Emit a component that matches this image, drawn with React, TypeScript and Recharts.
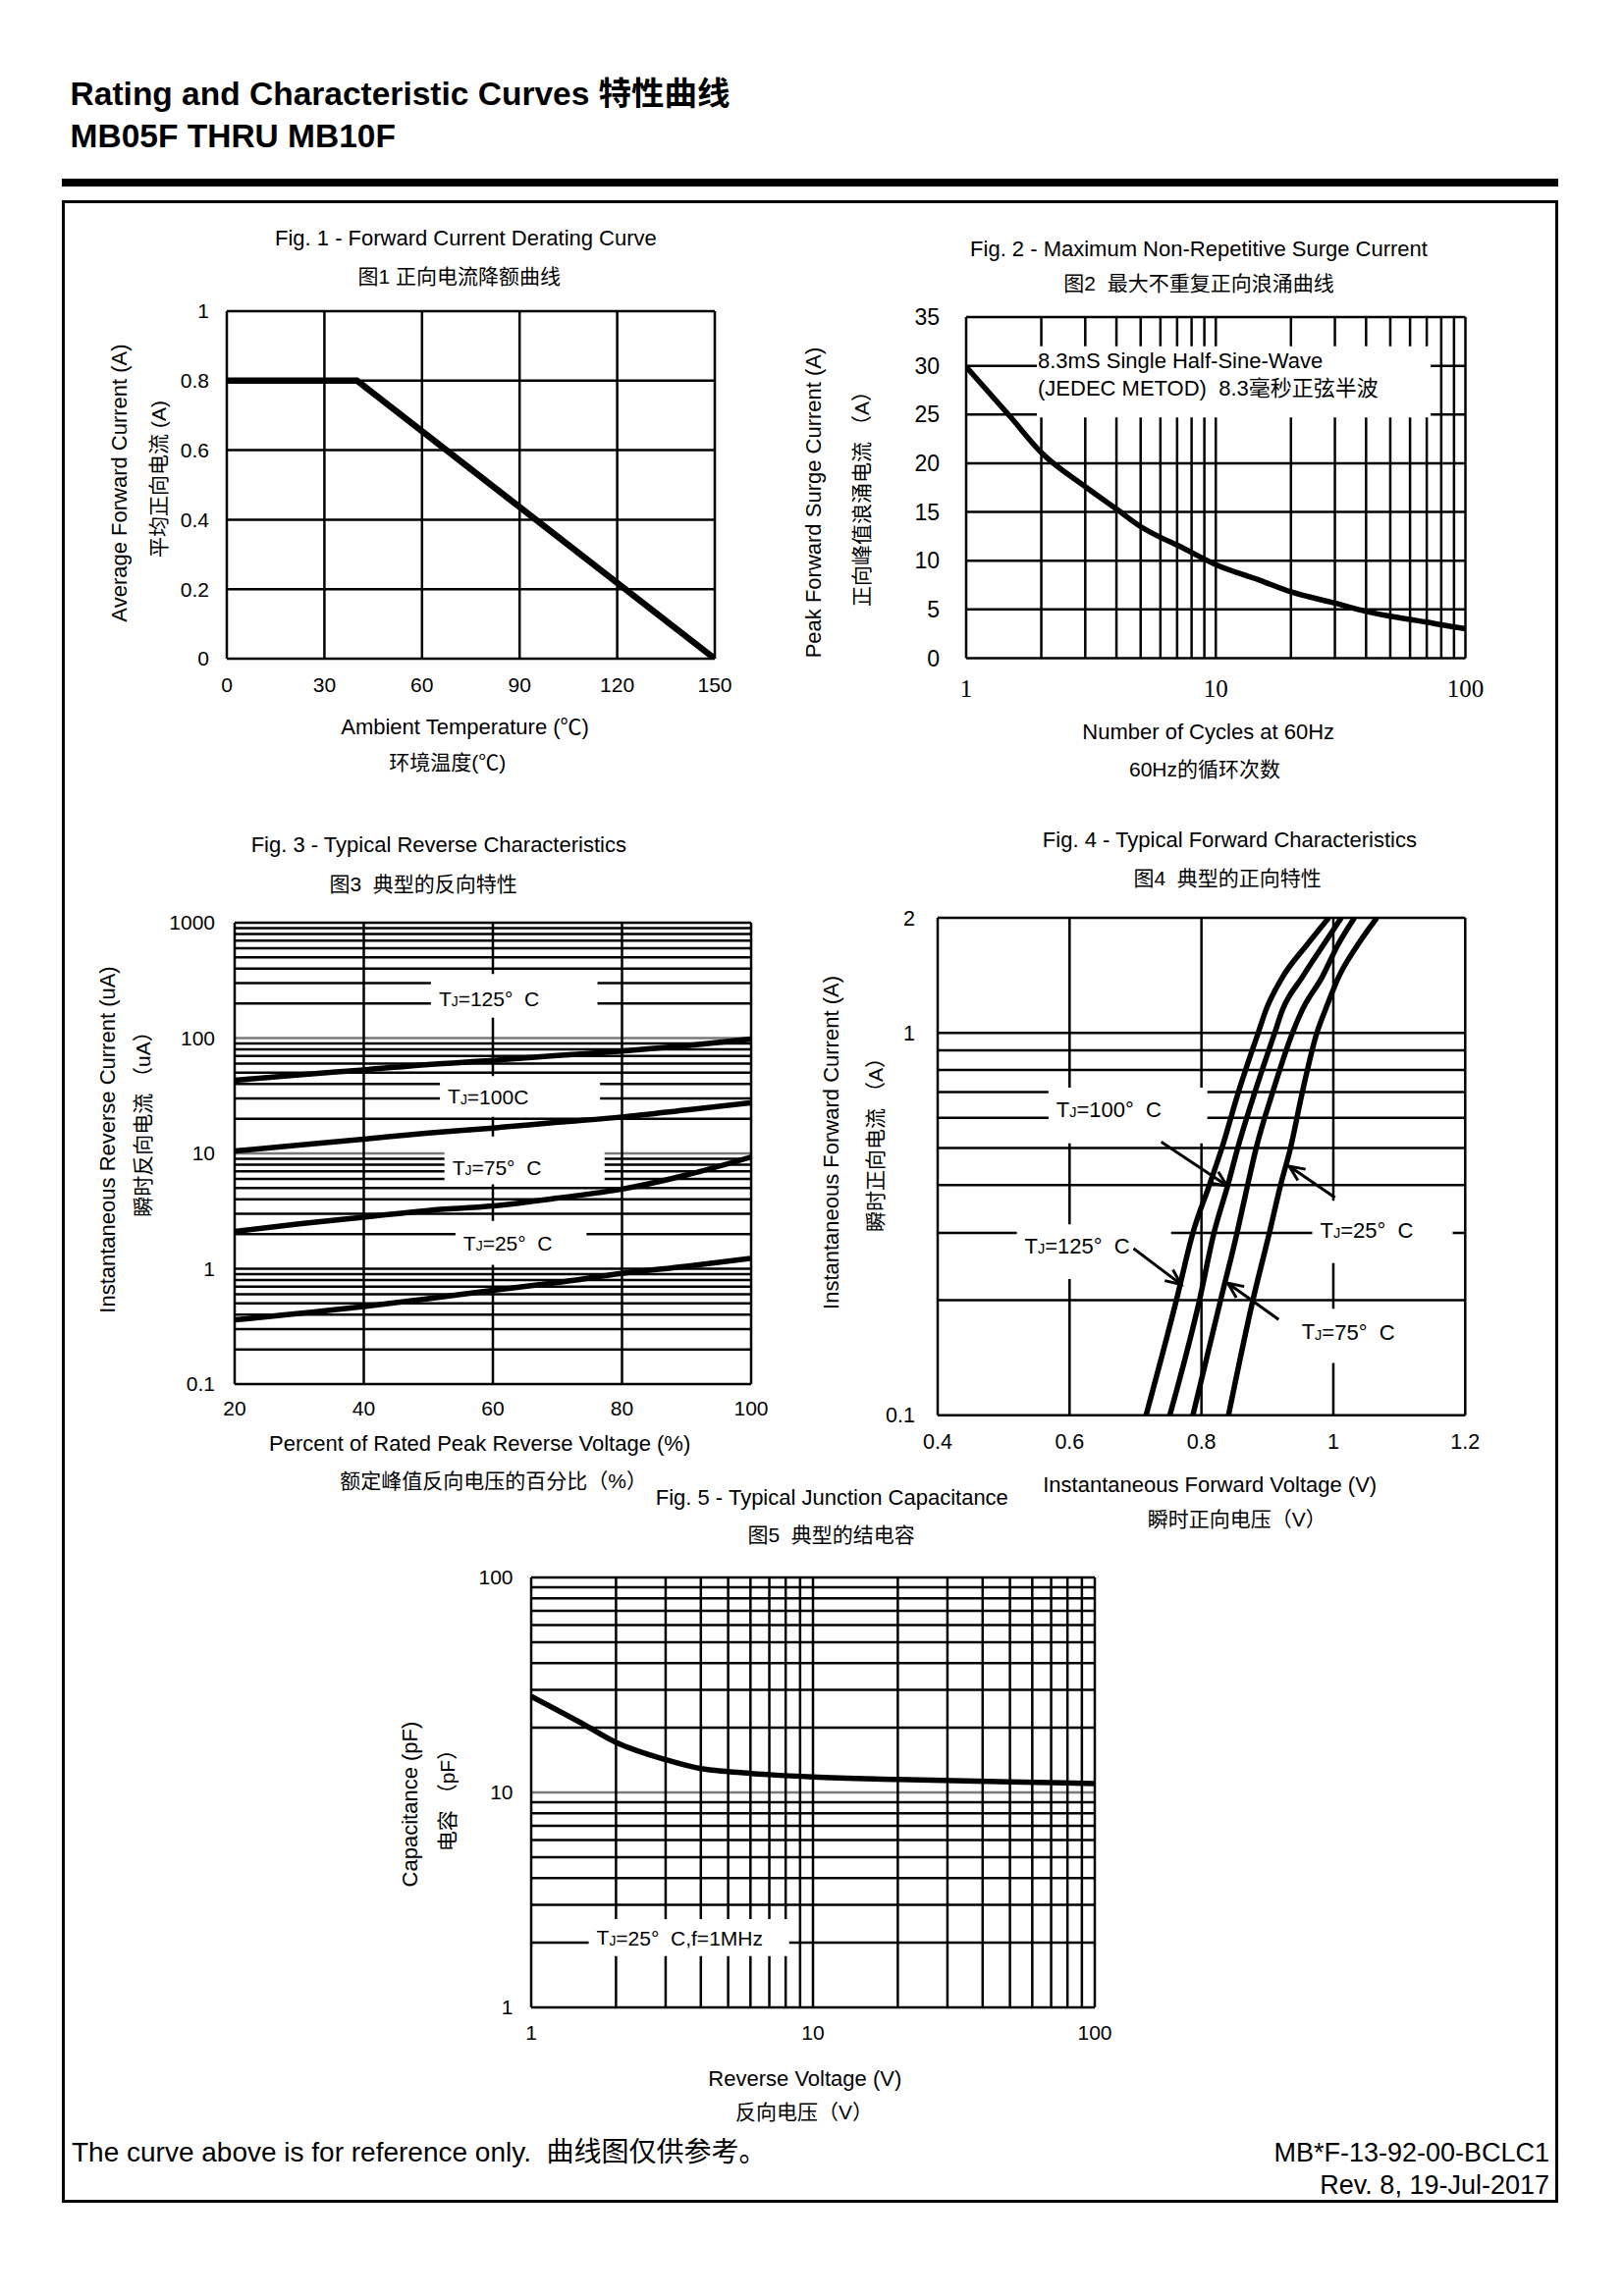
import React from "react";
import {
  CartesianGrid,
  Line,
  LineChart,
  ReferenceArea,
  ReferenceLine,
  XAxis,
  YAxis,
} from "recharts";

const FONT = '"Liberation Sans", Arial, "Noto Sans CJK SC", sans-serif';
const SERIF = '"Liberation Serif", "Times New Roman", serif';

// Fig. 1 - forward current derating
const deratingTemp = [0, 40, 150];
const deratingAmps = [0.8, 0.8, 0];
const fig1XTicks = [0, 30, 60, 90, 120, 150];
const fig1YTicks = [0, 0.2, 0.4, 0.6, 0.8, 1];

// Fig. 2 - non-repetitive surge current
const surgeCycles = [1, 1.5, 2, 3, 4, 5, 6, 7, 10, 15, 20, 30, 40, 50, 60, 70, 80, 100];
const surgeAmps = [29.9, 24.8, 21.1, 17.6, 15.3, 13.5, 12.4, 11.6, 9.6, 8.0, 6.8, 5.65, 4.8, 4.3, 3.97, 3.7, 3.43, 3.03];
const fig2XTicks = [1, 2, 3, 4, 5, 6, 7, 8, 9, 10, 20, 30, 40, 50, 60, 70, 80, 90, 100];
const fig2XLabels = [1, 10, 100];
const fig2YTicks = [0, 5, 10, 15, 20, 25, 30, 35];

// Fig. 3 - reverse characteristics (uA)
const revPercent = [20, 30, 40, 50, 60, 70, 80, 90, 100];
const rev125 = [43, 48, 53, 59, 64, 70.5, 77, 86, 98];
const rev100 = [10.5, 11.8, 13.3, 15, 16.6, 18.6, 20.7, 23.8, 27.5];
const rev75 = [2.1, 2.45, 2.8, 3.2, 3.5, 4.1, 4.9, 6.5, 9.3];
const rev25 = [0.36, 0.41, 0.47, 0.55, 0.65, 0.76, 0.91, 1.05, 1.23];
const fig3XTicks = [20, 40, 60, 80, 100];
const fig3YLabels = [0.1, 1, 10, 100, 1000];

// Fig. 4 - forward characteristics (current levels, volts per curve)
const fwdAmps = [0.1, 0.2, 0.3, 0.4, 0.5, 0.7, 1, 1.15, 1.4, 1.7, 2];
const fwd125 = [0.716, 0.762, 0.787, 0.812, 0.831, 0.856, 0.886, 0.898, 0.923, 0.96, 0.993];
const fwd100 = [0.752, 0.797, 0.819, 0.84, 0.855, 0.881, 0.911, 0.923, 0.953, 0.985, 1.012];
const fwd75 = [0.787, 0.829, 0.854, 0.87, 0.883, 0.908, 0.938, 0.953, 0.983, 1.007, 1.032];
const fwd25 = [0.841, 0.878, 0.903, 0.92, 0.935, 0.953, 0.975, 0.988, 1.008, 1.037, 1.066];
const fig4XTicks = [0.4, 0.6, 0.8, 1, 1.2];
const fig4YTicks = [0.1, 0.2, 0.3, 0.4, 0.5, 0.6, 0.7, 0.8, 0.9, 1, 2];
const fig4YLabels = [0.1, 1, 2];

// Fig. 5 - junction capacitance
const capVolts = [1, 1.5, 2, 3, 4, 5, 7, 10, 20, 50, 100];
const capPf = [28, 21.1, 17.1, 14.2, 12.9, 12.5, 12.1, 11.8, 11.5, 11.2, 11.0];
const fig5Labels = [1, 10, 100];

// log grid: 1..9 in every decade
function logGrid(lo: number, hi: number) {
  const out: number[] = [];
  for (let d = lo; d < hi * 0.999; d *= 10) {
    for (let k = 1; k < 10; k++) out.push(Number((k * d).toPrecision(6)));
  }
  out.push(hi);
  return out;
}
const fig3YTicks = logGrid(0.1, 1000);
const fig5Ticks = logGrid(1, 100);

const near = (a: number, b: number) => Math.abs(a - b) < 1e-6 * Math.max(1, Math.abs(b));
const onlyLabels = (labels: number[]) => (v: number) =>
  labels.some((l) => near(v, l)) ? String(v) : "";

// label boxes (white patches on the grid)
const fig2Note = { x1: 1.92, x2: 72.6, y1: 24.7, y2: 32 };
const fig3Notes = [
  { t: "125", deg: true, x1: 50.4, x2: 76.2, y1: 150, y2: 360, dy: 3 },
  { t: "100", deg: false, x1: 51.8, x2: 76.6, y1: 20.8, y2: 46.7, dy: 0 },
  { t: "75", deg: true, x1: 52.5, x2: 77.3, y1: 5.4, y2: 14, dy: 7 },
  { t: "25", deg: true, x1: 54.2, x2: 74.5, y1: 1.08, y2: 2.6, dy: 0 },
];
const fig4Notes = [
  { t: "100", x1: 0.568, x2: 0.809, y1: 0.514, y2: 0.719, dy: -6 },
  { t: "125", x1: 0.52, x2: 0.754, y1: 0.227, y2: 0.316, dy: -6 },
  { t: "25", x1: 0.968, x2: 1.181, y1: 0.25, y2: 0.364, dy: -2 },
  { t: "75", x1: 0.94, x2: 1.11, y1: 0.137, y2: 0.19, dy: -4 },
];
const fig4Arrows = [
  { x1: 0.739, y1: 0.519, x2: 0.839, y2: 0.398 },
  { x1: 1.0025, y1: 0.371, x2: 0.933, y2: 0.448 },
  { x1: 0.697, y1: 0.273, x2: 0.769, y2: 0.22 },
  { x1: 0.917, y1: 0.178, x2: 0.84, y2: 0.2215 },
];
const fig5Note = { x1: 1.6, x2: 8.23, y1: 1.73, y2: 2.576 };

type Box = { x: number; y: number; w: number; h: number };
const fig1Box: Box = { x: 231, y: 317, w: 497, h: 354 };
const fig2Box: Box = { x: 984, y: 322.5, w: 508.5, h: 347.5 };
const fig3Box: Box = { x: 239, y: 940, w: 526, h: 470 };
const fig4Box: Box = { x: 955.4, y: 935, w: 537.3, h: 506.8 };
const fig5Box: Box = { x: 540.5, y: 1606.5, w: 574, h: 438 };

const YW = 70;
const XH = 60;
const PL = 10;
const PT = 30;
const PR = 40;
const GRID_W = 2.5;
const CURVE_W = 5.5;

const tickStyle = (size: number, family = FONT) => ({ fill: "#000", fontSize: size, fontFamily: family });

function Plot({ box, data, children }: { box: Box; data?: any[]; children: React.ReactNode }) {
  return (
    <div style={{ position: "absolute", left: box.x - YW - PL, top: box.y - PT }}>
      <LineChart
        width={box.w + YW + PL + PR}
        height={box.h + PT + XH}
        data={data}
        margin={{ top: PT, right: PR, left: PL, bottom: 0 }}
      >
        {children}
      </LineChart>
    </div>
  );
}

function grayDecades(ticks: number[], gray: number[]) {
  return (p: any) => {
    const v = ticks[p.index];
    const isGray = v !== undefined && gray.some((g) => near(v, g));
    return (
      <line
        key={p.key}
        x1={p.x1}
        y1={p.y1}
        x2={p.x2}
        y2={p.y2}
        stroke={isGray ? "#7a7a7a" : "#000"}
        strokeWidth={GRID_W}
      />
    );
  };
}

function tjLabel(temp: string, deg: boolean, dy: number, size = 21, extra = "") {
  return (p: any) => {
    const vb = p.viewBox;
    return (
      <text
        x={vb.x + 8}
        y={vb.y + vb.height / 2 + dy}
        dominantBaseline="central"
        fontSize={size}
        fontFamily={FONT}
        fill="#000"
      >
        T
        <tspan fontSize={size * 0.66} dy={3}>
          J
        </tspan>
        <tspan dy={-3}>{`=${temp}${deg ? "°\u00a0\u00a0C" : "C"}${extra}`}</tspan>
      </text>
    );
  };
}

function Arrow(p: any) {
  const { x1, y1, x2, y2 } = p;
  const ang = Math.atan2(y2 - y1, x2 - x1);
  const L = 17;
  const a = 0.42;
  const w1x = x2 - L * Math.cos(ang - a);
  const w1y = y2 - L * Math.sin(ang - a);
  const w2x = x2 - L * Math.cos(ang + a);
  const w2y = y2 - L * Math.sin(ang + a);
  return (
    <g>
      <line x1={x1} y1={y1} x2={x2} y2={y2} stroke="#000" strokeWidth={3} />
      <polyline points={`${w1x},${w1y} ${x2},${y2} ${w2x},${w2y}`} fill="none" stroke="#000" strokeWidth={3} />
    </g>
  );
}

function Txt({
  x,
  y,
  size = 22,
  align = "center",
  rot = false,
  bold = false,
  family = FONT,
  children,
}: {
  x: number;
  y: number;
  size?: number;
  align?: "left" | "center" | "right";
  rot?: boolean;
  bold?: boolean;
  family?: string;
  children: React.ReactNode;
}) {
  const tx = align === "center" ? "-50%" : align === "right" ? "-100%" : "0";
  return (
    <div
      style={{
        position: "absolute",
        left: x,
        top: y,
        transform: `translate(${tx}, -50%)${rot ? " rotate(-90deg)" : ""}`,
        fontSize: size,
        lineHeight: 1,
        whiteSpace: "pre",
        fontWeight: bold ? 700 : 400,
        fontFamily: family,
        color: "#000",
      }}
    >
      {children}
    </div>
  );
}

function Fig1() {
  const rows = deratingTemp.map((t, i) => ({ t, a: deratingAmps[i] }));
  return (
    <Plot box={fig1Box} data={rows}>
      <CartesianGrid stroke="#000" strokeWidth={GRID_W} />
      <XAxis dataKey="t" type="number" domain={[0, 150]} ticks={fig1XTicks} interval={0} height={XH}
        tickLine={false} axisLine={false} tickSize={0} tickMargin={19} tick={tickStyle(21)} allowDataOverflow />
      <YAxis type="number" domain={[0, 1]} ticks={fig1YTicks} interval={0} width={YW}
        tickLine={false} axisLine={false} tickSize={0} tickMargin={18} tick={tickStyle(21)} allowDataOverflow />
      <Line type="linear" dataKey="a" stroke="#000" strokeWidth={6.5} dot={false} activeDot={false} isAnimationActive={false} />
    </Plot>
  );
}

function Fig2() {
  const rows = surgeCycles.map((n, i) => ({ n, a: surgeAmps[i] }));
  return (
    <Plot box={fig2Box} data={rows}>
      <CartesianGrid stroke="#000" strokeWidth={GRID_W} />
      <XAxis dataKey="n" type="number" scale="log" domain={[1, 100]} ticks={fig2XTicks} interval={0} height={XH}
        tickLine={false} axisLine={false} tickSize={0} tickMargin={22} tick={tickStyle(25, SERIF)}
        tickFormatter={onlyLabels(fig2XLabels)} allowDataOverflow />
      <YAxis type="number" domain={[0, 35]} ticks={fig2YTicks} interval={0} width={YW}
        tickLine={false} axisLine={false} tickSize={0} tickMargin={27} tick={tickStyle(23)} allowDataOverflow />
      <ReferenceArea
        x1={fig2Note.x1} x2={fig2Note.x2} y1={fig2Note.y1} y2={fig2Note.y2}
        fill="#fff" fillOpacity={1} stroke="none"
        label={(p: any) => {
          const vb = p.viewBox;
          return (
            <text fontSize={22} fontFamily={FONT} fill="#000" dominantBaseline="central">
              <tspan x={vb.x + 1} y={vb.y + 14.5}>8.3mS Single Half-Sine-Wave</tspan>
              <tspan x={vb.x + 1} y={vb.y + 42.5}>{"(JEDEC METOD)\u00a0\u00a08.3毫秒正弦半波"}</tspan>
            </text>
          );
        }}
      />
      <Line type="monotone" dataKey="a" stroke="#000" strokeWidth={CURVE_W} dot={false} activeDot={false} isAnimationActive={false} />
    </Plot>
  );
}

function Fig3() {
  const rows = revPercent.map((p, i) => ({ p, t125: rev125[i], t100: rev100[i], t75: rev75[i], t25: rev25[i] }));
  return (
    <Plot box={fig3Box} data={rows}>
      <CartesianGrid stroke="#000" strokeWidth={GRID_W} horizontal={grayDecades(fig3YTicks, [10, 100])} />
      <XAxis dataKey="p" type="number" domain={[20, 100]} ticks={fig3XTicks} interval={0} height={XH}
        tickLine={false} axisLine={false} tickSize={0} tickMargin={17.5} tick={tickStyle(21)} allowDataOverflow />
      <YAxis type="number" scale="log" domain={[0.1, 1000]} ticks={fig3YTicks} interval={0} width={YW}
        tickLine={false} axisLine={false} tickSize={0} tickMargin={20} tick={tickStyle(21)}
        tickFormatter={onlyLabels(fig3YLabels)} allowDataOverflow />
      {fig3Notes.map((n) => (
        <ReferenceArea key={n.t} x1={n.x1} x2={n.x2} y1={n.y1} y2={n.y2} fill="#fff" fillOpacity={1} stroke="none"
          label={tjLabel(n.t, n.deg, n.dy, 21)} />
      ))}
      {["t125", "t100", "t75", "t25"].map((k) => (
        <Line key={k} type="monotone" dataKey={k} stroke="#000" strokeWidth={CURVE_W} dot={false} activeDot={false} isAnimationActive={false} />
      ))}
    </Plot>
  );
}

function Fig4() {
  const curves = [fwd125, fwd100, fwd75, fwd25];
  return (
    <Plot box={fig4Box}>
      <CartesianGrid stroke="#000" strokeWidth={GRID_W} />
      <XAxis dataKey="v" type="number" domain={[0.4, 1.2]} ticks={fig4XTicks} interval={0} height={XH}
        tickLine={false} axisLine={false} tickSize={0} tickMargin={18.5} tick={tickStyle(21.5)} allowDataOverflow />
      <YAxis type="number" scale="log" domain={[0.1, 2]} ticks={fig4YTicks} interval={0} width={YW}
        tickLine={false} axisLine={false} tickSize={0} tickMargin={23} tick={tickStyle(21.5)}
        tickFormatter={onlyLabels(fig4YLabels)} allowDataOverflow />
      {fig4Notes.map((n) => (
        <ReferenceArea key={n.t} x1={n.x1} x2={n.x2} y1={n.y1} y2={n.y2} fill="#fff" fillOpacity={1} stroke="none"
          label={tjLabel(n.t, true, n.dy, 22)} />
      ))}
      {curves.map((c, ci) => (
        <Line key={ci} data={c.map((v, k) => ({ v, a: fwdAmps[k] }))} type="monotone" dataKey="a" stroke="#000"
          strokeWidth={CURVE_W} dot={false} activeDot={false} isAnimationActive={false} />
      ))}
      {fig4Arrows.map((a, i) => (
        <ReferenceLine key={i} segment={[{ x: a.x1, y: a.y1 }, { x: a.x2, y: a.y2 }]} shape={Arrow} />
      ))}
    </Plot>
  );
}

function Fig5() {
  const rows = capVolts.map((v, i) => ({ v, c: capPf[i] }));
  return (
    <Plot box={fig5Box} data={rows}>
      <CartesianGrid stroke="#000" strokeWidth={GRID_W} horizontal={grayDecades(fig5Ticks, [10])} />
      <XAxis dataKey="v" type="number" scale="log" domain={[1, 100]} ticks={fig5Ticks} interval={0} height={XH}
        tickLine={false} axisLine={false} tickSize={0} tickMargin={18.5} tick={tickStyle(21)}
        tickFormatter={onlyLabels(fig5Labels)} allowDataOverflow />
      <YAxis type="number" scale="log" domain={[1, 100]} ticks={fig5Ticks} interval={0} width={YW}
        tickLine={false} axisLine={false} tickSize={0} tickMargin={18.5} tick={tickStyle(21)}
        tickFormatter={onlyLabels(fig5Labels)} allowDataOverflow />
      <ReferenceArea x1={fig5Note.x1} x2={fig5Note.x2} y1={fig5Note.y1} y2={fig5Note.y2} fill="#fff" fillOpacity={1} stroke="none"
        label={tjLabel("25", true, 0, 21, ",f=1MHz")} />
      <Line type="monotone" dataKey="c" stroke="#000" strokeWidth={CURVE_W} dot={false} activeDot={false} isAnimationActive={false} />
    </Plot>
  );
}

export default function App() {
  return (
    <div style={{ position: "absolute", left: 0, top: 0, width: 1654, height: 2339, background: "#fff", fontFamily: FONT }}>
      <Txt x={71.6} y={95.5} size={33.5} bold align="left">Rating and Characteristic Curves 特性曲线</Txt>
      <Txt x={71.6} y={138.7} size={33.5} bold align="left">MB05F THRU MB10F</Txt>
      <div style={{ position: "absolute", left: 63, top: 181.5, width: 1524, height: 8, background: "#000" }} />
      <div style={{ position: "absolute", left: 63, top: 204, width: 1524, height: 2040, border: "3.5px solid #000", boxSizing: "border-box" }} />

      <Txt x={474.4} y={243.2}>Fig. 1 - Forward Current Derating Curve</Txt>
      <Txt x={467.7} y={280.5} size={21}>图1 正向电流降额曲线</Txt>
      <Fig1 />
      <Txt x={473.6} y={741.4}>Ambient Temperature (℃)</Txt>
      <Txt x={455.7} y={775.7} size={21}>环境温度(℃)</Txt>
      <Txt x={122.3} y={492.3} rot>Average Forward Current (A)</Txt>
      <Txt x={161.1} y={487.8} size={21} rot>平均正向电流 (A)</Txt>

      <Txt x={1221} y={253.6}>Fig. 2 - Maximum Non-Repetitive Surge Current</Txt>
      <Txt x={1221} y={287.9} size={21}>图2  最大不重复正向浪涌曲线</Txt>
      <Fig2 />
      <Txt x={1230.7} y={745.9}>Number of Cycles at 60Hz</Txt>
      <Txt x={1227} y={783.2} size={21}>60Hz的循环次数</Txt>
      <Txt x={829.4} y={511.7} rot>Peak Forward Surge Current (A)</Txt>
      <Txt x={877.2} y={502.7} size={21} rot>正向峰值浪涌电流 （A）</Txt>

      <Txt x={446.8} y={860.8}>Fig. 3 - Typical Reverse Characteristics</Txt>
      <Txt x={431.1} y={899.6} size={21}>图3  典型的反向特性</Txt>
      <Fig3 />
      <Txt x={488.6} y={1470.9}>Percent of Rated Peak Reverse Voltage (%)</Txt>
      <Txt x={502.7} y={1508.2} size={21}>额定峰值反向电压的百分比（%）</Txt>
      <Txt x={110.4} y={1160.6} rot>Instantaneous Reverse Current (uA)</Txt>
      <Txt x={144.7} y={1139.7} size={21} rot>瞬时反向电流 （uA）</Txt>

      <Txt x={1252.4} y={856.3}>Fig. 4 - Typical Forward Characteristics</Txt>
      <Txt x={1250.1} y={893.6} size={21}>图4  典型的正向特性</Txt>
      <Fig4 />
      <Txt x={1232.2} y={1512.7}>Instantaneous Forward Voltage (V)</Txt>
      <Txt x={1259.8} y={1547} size={21}>瞬时正向电压（V）</Txt>
      <Txt x={847.3} y={1163.6} rot>Instantaneous Forward Current (A)</Txt>
      <Txt x={890.6} y={1160.6} size={21} rot>瞬时正向电流 （A）</Txt>

      <Txt x={847.3} y={1526.1}>Fig. 5 - Typical Junction Capacitance</Txt>
      <Txt x={846.6} y={1563.4} size={21}>图5  典型的结电容</Txt>
      <Fig5 />
      <Txt x={819.8} y={2118.4}>Reverse Voltage (V)</Txt>
      <Txt x={819} y={2151.2} size={21}>反向电压（V）</Txt>
      <Txt x={417.7} y={1837.9} rot>Capacitance (pF)</Txt>
      <Txt x={455} y={1829} size={21} rot>电容 （pF）</Txt>

      <Txt x={73} y={2193} size={28} align="left">The curve above is for reference only.  曲线图仅供参考。</Txt>
      <Txt x={1578} y={2193} size={27} align="right">MB*F-13-92-00-BCLC1</Txt>
      <Txt x={1578} y={2226} size={27} align="right">Rev. 8, 19-Jul-2017</Txt>
    </div>
  );
}
